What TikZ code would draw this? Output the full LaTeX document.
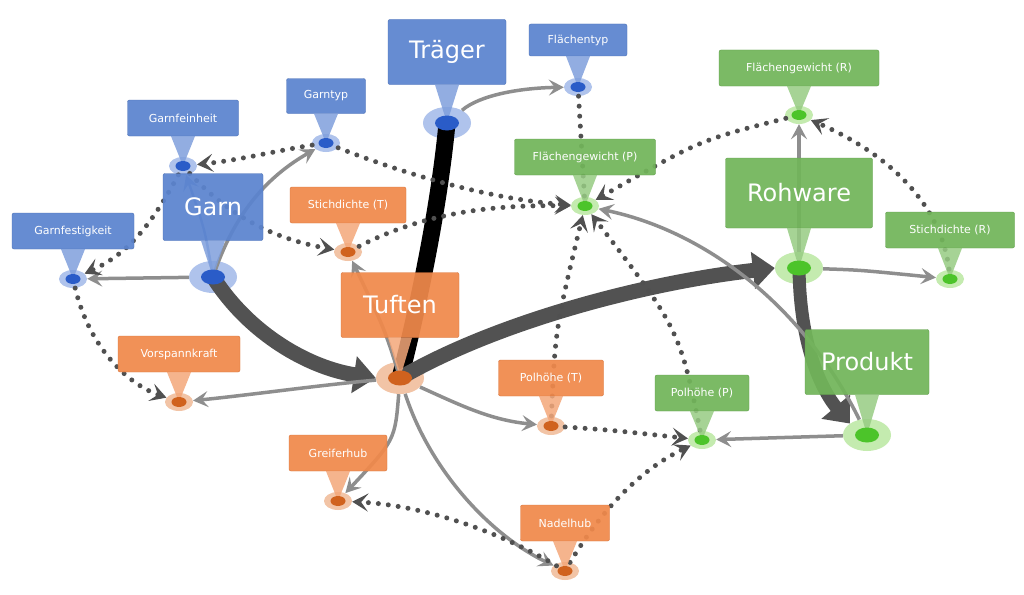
\documentclass[tikz,border=0pt]{standalone}
\usepackage{fontspec}
\setmainfont{DejaVu Sans}
\usetikzlibrary{shapes.geometric,arrows.meta}
\definecolor{bB}{HTML}{5B84CF}\definecolor{bBd}{HTML}{4A6FB5}\definecolor{bP}{HTML}{7F9FDC}\definecolor{bD}{HTML}{2A5CC8}\definecolor{bH}{HTML}{AFC3EC}
\definecolor{oB}{HTML}{F0894B}\definecolor{oBd}{HTML}{D9733A}\definecolor{oP}{HTML}{F4A77A}\definecolor{oD}{HTML}{D0621E}\definecolor{oH}{HTML}{F2C4A6}
\definecolor{gB}{HTML}{72B55A}\definecolor{gBd}{HTML}{5E9E48}\definecolor{gP}{HTML}{97CC83}\definecolor{gD}{HTML}{4CC42A}\definecolor{gH}{HTML}{C4EBAF}
\definecolor{thick}{HTML}{525252}\definecolor{sol}{HTML}{8E8E8E}\definecolor{dotc}{HTML}{505050}
\tikzset{
 haloS/.style={ellipse,inner sep=0,minimum width=28pt,minimum height=18pt},
 haloL/.style={ellipse,inner sep=0,minimum width=48pt,minimum height=32pt},
 dotS/.style={ellipse,inner sep=0,minimum width=15pt,minimum height=10pt},
 dotL/.style={ellipse,inner sep=0,minimum width=24pt,minimum height=15pt},
 fontS/.style={font=\fontsize{11}{13}\selectfont},
 fontL/.style={font=\fontsize{24}{28}\selectfont},
 box/.style={rectangle,rounded corners=2pt,inner sep=0,text=white,fill opacity=0.93,text opacity=1},
 thk/.style={draw=thick,line width=15pt,-{Triangle[length=22pt,width=36pt]}},
 solid g/.style={draw=sol,line width=3.5pt,-{Stealth[length=15pt,width=16pt,inset=6pt]}},
 dotd/.style={draw=dotc,line width=5pt,line cap=round,dash pattern=on 0pt off 10pt,-{Stealth[length=16pt,width=18pt,inset=7pt,line cap=butt]}},
}
\newcommand\kn[9]{%
 \node[halo#9,fill=#6H] (#1) at (#2,#4) {};
}
\newcommand\kb[9]{%
 \node[box,fill=#6B,draw=#6Bd,minimum width=#7pt,minimum height=#8pt,font#9] (#1-b) at (#2,#3) {#5};
 \fill[#6P,opacity=0.85] ([xshift=-12pt]#1-b.south) -- ([xshift=12pt]#1-b.south) -- (#1.center) -- cycle;
 \node[dot#9,fill=#6D] at (#1.center) {};
}
\newcommand\allnodes[1]{%
 #1{traeger}{447}{52}{123}{Träger}{b}{118}{65}{L}
 #1{ftyp}{578}{40}{87}{Flächentyp}{b}{98}{32}{S}
 #1{gtyp}{326}{96}{143}{Garntyp}{b}{79}{35}{S}
 #1{gfein}{183}{118}{166}{Garnfeinheit}{b}{111}{36}{S}
 #1{garn}{213}{207}{277}{Garn}{b}{100}{67}{L}
 #1{gfest}{73}{231}{279}{Garnfestigkeit}{b}{122}{36}{S}
 #1{sdt}{348}{205}{252}{Stichdichte (T)}{o}{116}{36}{S}
 #1{tuften}{400}{305}{378}{Tuften}{o}{118}{65}{L}
 #1{vsk}{179}{354}{402}{Vorspannkraft}{o}{122}{36}{S}
 #1{pht}{551}{378}{426}{Polhöhe (T)}{o}{105}{36}{S}
 #1{ghub}{338}{453}{501}{Greiferhub}{o}{98}{36}{S}
 #1{nhub}{565}{523}{571}{Nadelhub}{o}{89}{36}{S}
 #1{fgr}{799}{68}{115}{Flächengewicht (R)}{g}{160}{36}{S}
 #1{fgp}{585}{157}{206}{Flächengewicht (P)}{g}{141}{36}{S}
 #1{roh}{799}{193}{268}{Rohware}{g}{147}{70}{L}
 #1{sdr}{950}{230}{279}{Stichdichte (R)}{g}{129}{36}{S}
 #1{prod}{867}{362}{435}{Produkt}{g}{124}{65}{L}
 #1{php}{702}{393}{440}{Polhöhe (P)}{g}{94}{36}{S}
}
\begin{document}
\begin{tikzpicture}[x=1pt,y=-1pt]
\useasboundingbox (0,0) rectangle (1024,594);
\fill[white] (0,0) rectangle (1024,594);
\allnodes\kn
% thick flows
\draw[thk] (garn.center) .. controls (250,335) and (310,368) .. (tuften.west);
\draw[thick,line width=17pt] (traeger.center) .. controls (440,200) and (420,300) .. (tuften.center);
\draw[thk] (tuften.center) .. controls (500,320) and (650,282) .. (roh.west);
\draw[thk,line width=13pt] (roh.center) .. controls (800,360) and (830,400) .. (prod.north west);
% solid
\draw[solid g] (garn) -- (gfest);
\draw[solid g,line width=2.5pt,draw=bP] (garn.center) .. controls (205,230) .. (gfein);
\draw[solid g] (garn.center) .. controls (235,210) and (270,175) .. (gtyp);
\draw[solid g] (traeger) .. controls (480,95) and (520,88) .. (ftyp);
\draw[solid g] (tuften) .. controls (320,385) and (250,395) .. (vsk);
\draw[solid g] (tuften.center) .. controls (385,330) .. (sdt);
\draw[solid g] (tuften) .. controls (460,405) and (490,420) .. (pht);
\draw[solid g] (tuften) .. controls (395,440) .. (ghub);
\draw[solid g] (tuften) .. controls (430,470) and (490,535) .. (nhub);
\draw[solid g] (roh) -- (fgr);
\draw[solid g] (roh) .. controls (860,270) .. (sdr);
\draw[solid g] (prod) -- (php);
\draw[solid g] (prod) .. controls (800,300) and (700,230) .. (fgp);
% dotted
\draw[dotd] (gtyp) .. controls (280,150) and (240,160) .. (gfein);
\draw[dotd] (gfein.center) .. controls (150,230) and (125,255) .. (gfest);
\draw[dotd] (gfest) .. controls (90,350) and (130,385) .. (vsk);
\draw[dotd] (gtyp) .. controls (420,180) and (500,200) .. (fgp);
\draw[dotd] (gfein.center) .. controls (230,220) and (280,240) .. (sdt);
\draw[dotd] (sdt) .. controls (430,210) and (500,205) .. (fgp);
\draw[dotc,line width=5pt,line cap=round,dash pattern=on 0pt off 10pt] (ftyp) -- (fgp);
\draw[dotd] (fgr) .. controls (700,140) .. (fgp);
\draw[dotd] (sdr.center) .. controls (945,200) and (880,150) .. (fgr);
\draw[dotd] (pht.center) .. controls (555,330) .. (fgp);
\draw[dotd] (php.center) .. controls (680,330) .. (fgp);
\draw[dotd] (pht) .. controls (610,430) .. (php);
\draw[dotd] (nhub.center) .. controls (600,510) and (640,470) .. (php);
\draw[dotd] (nhub.center) .. controls (500,530) and (420,505) .. (ghub);
\allnodes\kb
\end{tikzpicture}
\end{document}
